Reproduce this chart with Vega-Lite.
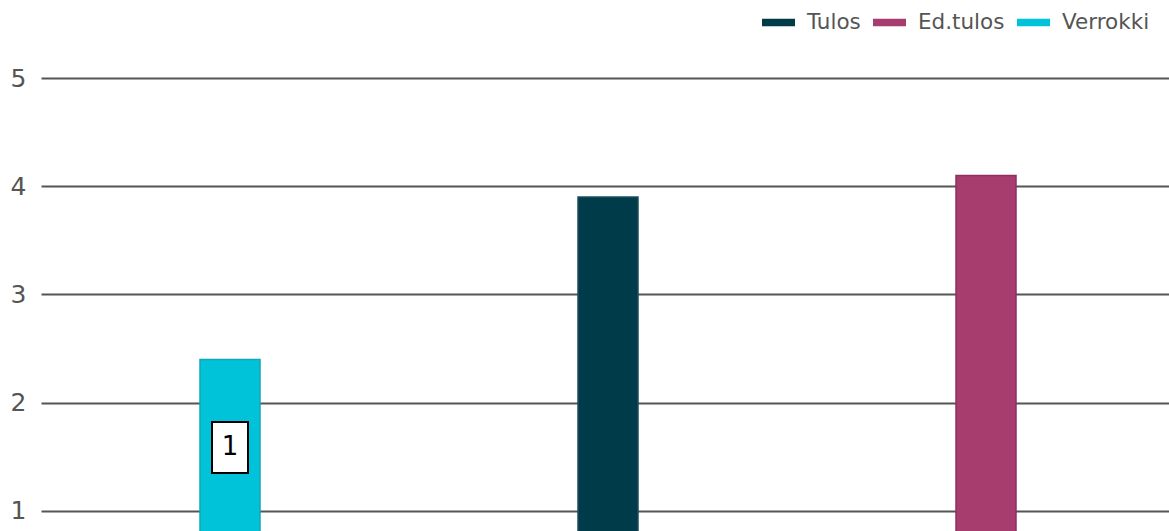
{
  "$schema": "https://vega.github.io/schema/vega-lite/v6.json",
  "width": 1134,
  "height": 531,
  "autosize": {"type": "none"},
  "padding": {"left": 41, "top": 0, "right": 0, "bottom": 0},
  "background": "white",
  "config": {"view": {"stroke": null}, "font": "DejaVu Sans"},
  "data": {
    "values": [
      {"sarja": "Verrokki", "arvo": 2.4, "n": "1"},
      {"sarja": "Tulos", "arvo": 3.9, "n": null},
      {"sarja": "Ed.tulos", "arvo": 4.1, "n": null}
    ]
  },
  "encoding": {
    "x": {"field": "sarja", "type": "nominal", "sort": ["Verrokki", "Tulos", "Ed.tulos"], "axis": null, "scale": {"paddingInner": 0, "paddingOuter": 0}},
    "y": {
      "field": "arvo", "type": "quantitative",
      "scale": {"domain": [0.8152, 5.7206], "nice": false, "zero": false},
      "axis": {
        "values": [1, 2, 3, 4, 5], "title": null, "domain": false, "ticks": false,
        "grid": true, "gridColor": "#555555", "gridWidth": 2,
        "labelFontSize": 25, "labelColor": "#555555", "labelPadding": 15, "labelFont": "DejaVu Sans"
      }
    }
  },
  "layer": [
    {
      "mark": {"type": "bar", "size": 60, "clip": true, "strokeWidth": 1.5},
      "encoding": {
        "y2": {"datum": 0},
        "color": {
          "field": "sarja", "type": "nominal",
          "scale": {"domain": ["Tulos", "Ed.tulos", "Verrokki"], "range": ["#003b4a", "#a63d6e", "#00c3d9"]},
          "legend": {
            "title": null, "orient": "none", "direction": "horizontal",
            "legendX": 721, "legendY": 6,
            "symbolType": "M-1,-0.22H1V0.22H-1Z", "symbolSize": 1089, "symbolStrokeWidth": 0,
            "labelFontSize": 21.5, "labelColor": "#555555", "labelFont": "DejaVu Sans",
            "labelOffset": 12, "columnPadding": 12
          }
        },
        "stroke": {
          "field": "sarja", "type": "nominal",
          "scale": {"domain": ["Tulos", "Ed.tulos", "Verrokki"], "range": ["#1d4f5c", "#8e3060", "#10a8b8"]},
          "legend": null
        }
      }
    },
    {
      "transform": [{"filter": "datum.n != null"}],
      "mark": {"type": "point", "shape": "M-0.706,-1H0.706V1H-0.706Z", "size": 2601, "filled": true, "fill": "white", "stroke": "black", "strokeWidth": 2, "opacity": 1, "yOffset": 88}
    },
    {
      "transform": [{"filter": "datum.n != null"}],
      "mark": {"type": "text", "fontSize": 26, "color": "black", "dy": 88, "baseline": "middle", "align": "center", "font": "DejaVu Sans"},
      "encoding": {"text": {"field": "n"}}
    }
  ]
}
